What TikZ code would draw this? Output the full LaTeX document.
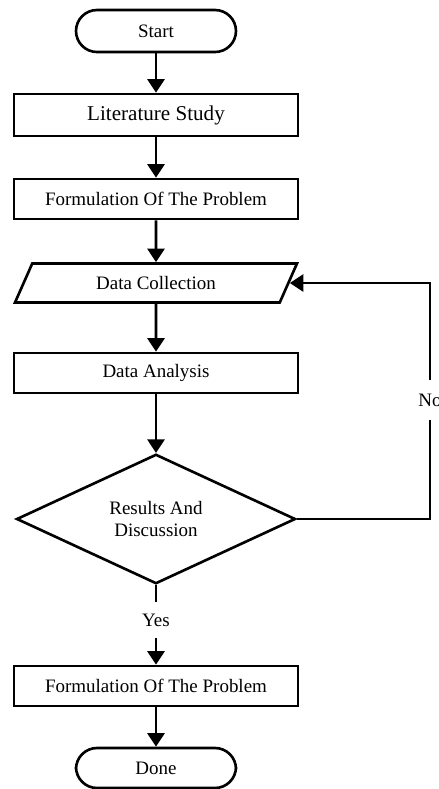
\documentclass[tikz,border=0pt]{standalone}
\usepackage{fontspec}
\setmainfont{Liberation Serif}
\usetikzlibrary{arrows.meta,shapes.geometric}

\tikzset{
	flowline/.style={line width=1.5pt},
	flowarrow/.style={line width=1.5pt, -{Triangle[length=0.27cm, width=0.34cm]}},
	terminal/.style={draw, line width=1.5pt, rounded corners=0.42cm, minimum width=3.2cm, minimum height=0.84cm, inner sep=0pt},
	stepbox/.style={draw, line width=1.5pt, minimum width=5.68cm, minimum height=0.8cm, inner sep=0pt},
	iobox/.style={draw, line width=1.5pt, trapezium, trapezium left angle=58, trapezium right angle=122, trapezium stretches=true, minimum width=5.68cm, minimum height=0.78cm, inner sep=0pt},
	decision/.style={draw, line width=1.5pt, diamond, minimum width=5.58cm, minimum height=2.3cm, inner sep=0pt, align=center},
	flowlabel/.style={fill=white, inner sep=0pt, minimum height=0.7cm}
}

\begin{document}
\begin{tikzpicture}[x=0.02cm, y=-0.02cm, font=\fontsize{10.8}{13}\selectfont]
			%%%%% START %%%%%
			
			\useasboundingbox (0, 0) rectangle (439, 789);
			
			\node[terminal] (start) at (156, 31) {Start};
			\node[stepbox, minimum height=0.84cm] (study) at (156, 115) {\fontsize{12}{14}\selectfont Literature Study};
			\node[stepbox] (problem) at (156, 199) {Formulation Of The Problem};
			\node[iobox] (collect) at (156, 283) {Data Collection};
			\node[stepbox] (analysis) at (156, 373) {Data Analysis};
			\node[decision] (discuss) at (156, 519) {Results And\\Discussion};
			\node[flowlabel] (yes) at (156, 620) {Yes};
			\node[stepbox] (result) at (156, 686) {Formulation Of The Problem};
			\node[terminal, minimum height=0.8cm] (done) at (156, 768) {Done};
			\node[flowlabel, minimum height=0.8cm] (no) at (430, 400) {No};
			
			\draw[flowarrow] (start) -- (study);
			\draw[flowarrow] (study) -- (problem);
			\draw[flowarrow] (problem) -- (collect);
			\draw[flowarrow] (collect) -- (analysis);
			\draw[flowarrow] (analysis) -- (discuss);
			
			\draw[flowline] (discuss.south) -- (yes.north);
			\draw[flowarrow] (yes.south) -- (result.north);
			\draw[flowarrow] (result) -- (done);
			
			\draw[flowline] (discuss.east) -| (no.south);
			\draw[flowarrow] (no.north) |- (collect.east);
			
			%%%%% END %%%%%
		\end{tikzpicture}
\end{document}
